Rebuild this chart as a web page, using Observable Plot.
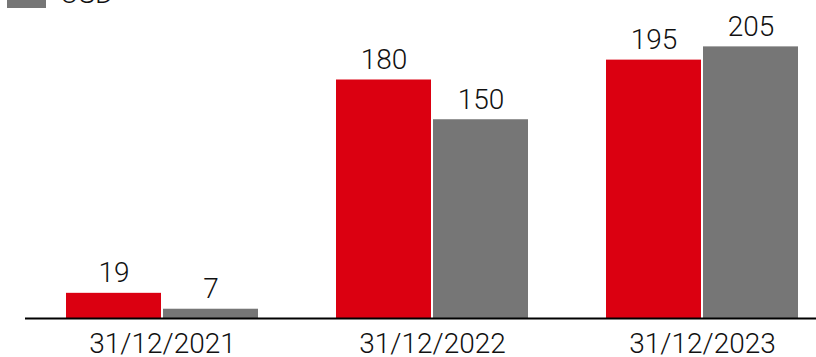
<!DOCTYPE html>
<html>
<head>
<meta charset="utf-8">
<script src="https://cdn.jsdelivr.net/npm/d3@7"></script>
<script src="https://cdn.jsdelivr.net/npm/@observablehq/plot@0.6"></script>
<style>
  html, body { margin: 0; padding: 0; background: #fff; overflow: hidden; }
  body { position: relative; width: 816px; height: 357px; font-family: Roboto, "Noto Sans", sans-serif; }
  #legend { position: absolute; left: 7px; top: -20px; display: flex; align-items: flex-end; font-weight: 300; font-size: 28px; color: #111; line-height: 1; z-index: 2; }
  #legend .sw { width: 39px; height: 18px; margin-right: 14px; }
  #legend span.lbl { position: relative; top: 0px; }
</style>
</head>
<body>
<div id="legend"></div>
<div id="chart"></div>
<script>
const dates = ["31/12/2021", "31/12/2022", "31/12/2023"];
const series = ["Red", "USD"];
const redValues = [19, 180, 195];
const usdValues = [7, 150, 205];
const colors = ["#DB0011", "#767676"];

const data = [];
dates.forEach((d, i) => {
  data.push({date: d, series: series[0], value: redValues[i]});
  data.push({date: d, series: series[1], value: usdValues[i]});
});
const red = data.filter(d => d.series === series[0]);
const usd = data.filter(d => d.series === series[1]);

// legend (only USD visible in the cropped reference)
const lg = document.getElementById("legend");
lg.innerHTML = `<div class="sw" style="background:${colors[1]}"></div><span class="lbl">USD</span>`;

const font = "Roboto, 'Noto Sans', sans-serif";
const chart = Plot.plot({
  width: 816,
  height: 357,
  marginTop: 0,
  marginBottom: 39,
  marginLeft: 25,
  marginRight: -22,
  style: {fontFamily: font, fontWeight: 300, background: "white", color: "#111"},
  x: {domain: dates, paddingInner: 0.29, paddingOuter: 0.146, axis: null, label: null},
  y: {domain: [0, 240], axis: null},
  marks: [
    Plot.barY(red, {x: "date", y: "value", fill: colors[0], insetRight: 97}),
    Plot.barY(usd, {x: "date", y: "value", fill: colors[1], insetLeft: 97}),
    Plot.text(red, {x: "date", y: "value", text: d => String(d.value), dx: -48.5, dy: -11, lineAnchor: "bottom", fontSize: 28, fill: "#111"}),
    Plot.text(usd, {x: "date", y: "value", text: d => String(d.value), dx: 48.5, dy: -11, lineAnchor: "bottom", fontSize: 28, fill: "#111"}),
    Plot.ruleY([0], {stroke: "#000", strokeWidth: 2}),
    Plot.axisX({anchor: "bottom", tickSize: 0, tickPadding: 15, fontSize: 28, fill: "#111", label: null})
  ]
});
document.getElementById("chart").appendChild(chart);
</script>
</body>
</html>
